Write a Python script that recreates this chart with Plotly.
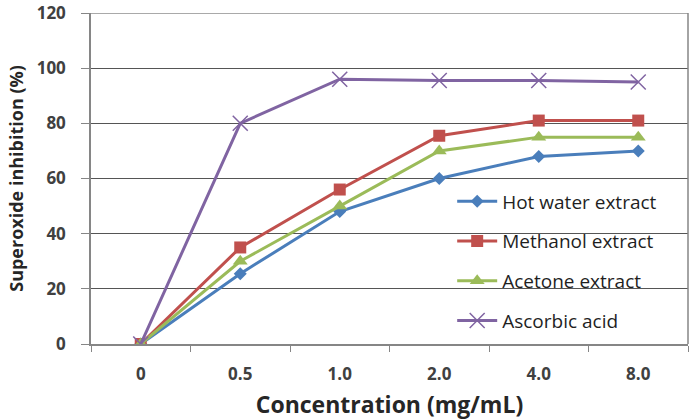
import plotly.graph_objects as go

categories = ["0", "0.5", "1.0", "2.0", "4.0", "8.0"]
hot_water = [0, 25.5, 48, 60, 68, 70]
methanol = [0, 35, 56, 75.5, 81, 81]
acetone = [0, 30, 50, 70, 75, 75]
ascorbic = [0, 80, 96, 95.5, 95.5, 95]
y_ticks = [0, 20, 40, 60, 80, 100, 120]

series = [
    ("Hot water extract", hot_water, "#4A7EBB", dict(symbol="diamond", size=10)),
    ("Methanol extract", methanol, "#C0504D", dict(symbol="square", size=12)),
    ("Acetone extract", acetone, "#9BBB59", dict(symbol="triangle-up", size=13)),
    ("Ascorbic acid", ascorbic, "#8064A2", dict(symbol="x-thin-open", size=15,
                                               line=dict(width=1.5, color="#A08CC0"))),
]

fig = go.Figure()
for i, (name, vals, color, mk) in enumerate(series):
    marker = dict(color=color, **mk)
    fig.add_trace(go.Scatter(x=categories, y=vals, name=name, mode="lines+markers",
                             legendgroup=f"g{i}",
                             line=dict(color=color, width=3), marker=marker))

font = "'Open Sans', sans-serif"
fig.update_layout(
    width=692, height=420,
    margin=dict(l=91, r=4, t=13, b=76, autoexpand=False),
    paper_bgcolor="white", plot_bgcolor="white",
    showlegend=True,
    legend=dict(x=0.605, y=0.488, xanchor="left", yanchor="top",
                bgcolor="rgba(0,0,0,0)", font=dict(family=font, size=19, color="#1f1f1f"),
                tracegroupgap=12, itemwidth=40),
    font=dict(family=font, color="#404040"),
)
fig.update_xaxes(
    type="category", range=[-0.5, 5.5], automargin=False,
    showline=True, linecolor="#868686", linewidth=1.5, mirror=False,
    ticks="outside", tickson="boundaries", ticklen=6, tickcolor="#868686",
    ticklabelstandoff=14,
    tickfont=dict(family=font, size=17, color="#404040", weight="bold"),
    title=dict(text="Concentration (mg/mL)", font=dict(family=font, size=23, color="#262626", weight="bold"), standoff=17),
    showgrid=False, zeroline=False,
)
fig.update_yaxes(
    range=[0, 120], tickvals=y_ticks, automargin=False,
    showline=True, linecolor="#868686", linewidth=1.5,
    ticks="outside", ticklen=8, tickcolor="#868686",
    ticklabelstandoff=12, ticklabeloverflow="allow",
    tickfont=dict(family=font, size=17, color="#404040", weight="bold"),
    title=dict(text="Superoxide inhibition (%)", font=dict(family=font, size=18, color="#262626", weight="bold"), standoff=8),
    showgrid=True, gridcolor="#555555", gridwidth=1.2, zeroline=False,
)
# top gridline (at 120) and right border
fig.add_shape(type="line", xref="paper", yref="y", x0=0, x1=1, y0=y_ticks[-1], y1=y_ticks[-1],
              line=dict(color="#555555", width=1.2))
fig.add_shape(type="line", xref="paper", yref="paper", x0=1, x1=1, y0=0, y1=1,
              line=dict(color="#868686", width=1.5))
fig.write_html("out.html")
